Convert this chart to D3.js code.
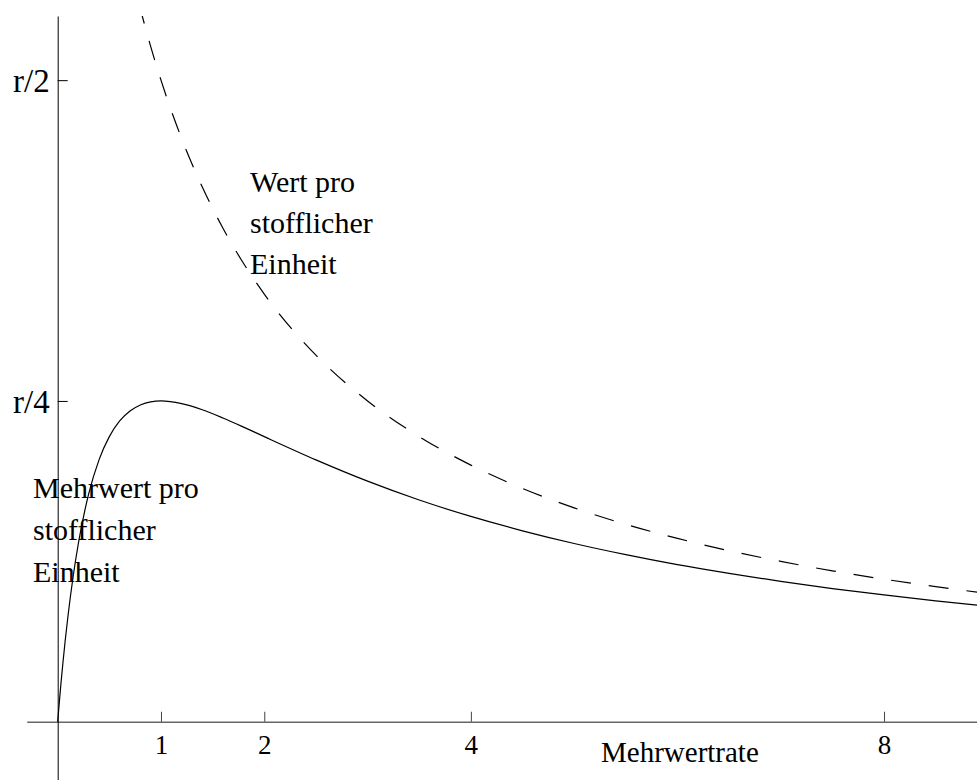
<!DOCTYPE html>
<meta charset="utf-8">
<style>
body { margin: 0; background: #fff; }
svg { display: block; }
text { font-family: "Liberation Serif", "Times New Roman", serif; font-size: 30px; fill: #000; }
.axis--x text { font-size: 27px; }
.axis--y text { font-size: 33px; }
.title { font-size: 29px; }
.curve { fill: none; stroke: #000; stroke-width: 1.2px; }
.curve--dashed { stroke-dasharray: 20, 18; }
</style>
<body>
<script src="https://cdn.jsdelivr.net/npm/d3@7"></script>
<script>

// Mehrwertrate (s) and values, in units of r
var rateSolid = [0, 0.01, 0.02, 0.03, 0.05, 0.1, 0.15, 0.2, 0.3, 0.4, 0.5, 0.6, 0.7, 0.8, 0.9, 1,
                 1.2, 1.4, 1.6, 1.8, 2, 2.5, 3, 3.5, 4, 4.5, 5, 5.5, 6, 6.5, 7, 7.5, 8, 8.5, 9]
var mehrwert  = [0, 0.0098, 0.0192, 0.0283, 0.0454, 0.0826, 0.1134, 0.1389, 0.1775, 0.2041, 0.2222,
                 0.2344, 0.2422, 0.2469, 0.2493, 0.25, 0.2479, 0.2431, 0.2367, 0.2296, 0.2222, 0.2041,
                 0.1875, 0.1728, 0.16, 0.1488, 0.1389, 0.1302, 0.1224, 0.1156, 0.1094, 0.1038,
                 0.0988, 0.0942, 0.09]

var rateDashed = [0.7, 0.75, 0.8, 0.9, 1, 1.2, 1.4, 1.6, 1.8, 2, 2.5, 3, 3.5, 4, 4.5, 5, 5.5, 6,
                  6.5, 7, 7.5, 8, 8.5, 9]
var wert       = [0.588, 0.571, 0.5556, 0.5263, 0.5, 0.4545, 0.4167, 0.3846, 0.3571, 0.3333, 0.2857,
                  0.25, 0.2222, 0.2, 0.1818, 0.1667, 0.1538, 0.1429, 0.1333, 0.125, 0.1176, 0.1111,
                  0.1053, 0.1]

var xTicks = [1, 2, 4, 8]
var yTicks = [0.25, 0.5]
var yTickLabels = ["r/4", "r/2"]

var labelMehrwert = ["Mehrwert pro", "stofflicher", "Einheit"]
var labelWert = ["Wert pro", "stofflicher", "Einheit"]
var xTitle = "Mehrwertrate"

var width = 977,
    height = 780;

var svg = d3.select("body").append("svg")
    .attr("width", width)
    .attr("height", height);

var x = d3.scaleLinear().domain([-0.3, 8.9]).range([26.7, 977])
var y = d3.scaleLinear().domain([-0.0454, 0.55]).range([780, 16])

svg.append("clipPath").attr("id", "clip")
  .append("rect")
    .attr("x", 0).attr("y", y(0.55))
    .attr("width", width).attr("height", height - y(0.55))

// x axis, ticks pointing up
var gx = svg.append("g")
    .attr("class", "axis axis--x")
    .attr("transform", "translate(0," + y(0) + ")")
    .call(d3.axisBottom(x).tickValues(xTicks).tickFormat(d3.format("d"))
      .tickSizeInner(-10).tickSizeOuter(0).tickPadding(13))
gx.select(".domain").attr("stroke", "#666").attr("stroke-width", 1.6)
gx.selectAll(".tick line").attr("stroke", "#444")
gx.attr("font-size", null).attr("font-family", null)

// y axis, ticks pointing right, labels on the left
var gy = svg.append("g")
    .attr("class", "axis axis--y")
    .attr("transform", "translate(" + x(0) + ",0)")
    .call(d3.axisLeft(y).tickValues(yTicks).tickFormat(function(d, i) { return yTickLabels[i]; })
      .tickSizeInner(-10).tickSizeOuter(0).tickPadding(8))
gy.select(".domain").attr("stroke", "#000").attr("stroke-width", 1)
gy.selectAll("text").attr("dy", "0.34em")
gy.attr("font-size", null).attr("font-family", null)

var line = d3.line()
    .x(function(d) { return x(d[0]); })
    .y(function(d) { return y(d[1]); })
    .curve(d3.curveMonotoneX)

var g = svg.append("g").attr("clip-path", "url(#clip)")

g.append("path")
    .datum(d3.zip(rateDashed, wert))
    .attr("class", "curve curve--dashed")
    .attr("d", line)

// labels
svg.append("text")
    .attr("x", 250).attr("y", 192)
  .selectAll("tspan").data(labelWert).enter().append("tspan")
    .attr("x", 250).attr("dy", function(d, i) { return i ? 41 : 0; })
    .text(function(d) { return d; })

svg.append("text")
    .attr("x", 33).attr("y", 498)
  .selectAll("tspan").data(labelMehrwert).enter().append("tspan")
    .attr("x", 33).attr("dy", function(d, i) { return i ? 42 : 0; })
    .text(function(d) { return d; })

svg.append("text")
    .attr("class", "title")
    .attr("x", 601).attr("y", 762)
    .text(xTitle)

g.append("path")
    .datum(d3.zip(rateSolid, mehrwert))
    .attr("class", "curve")
    .attr("d", line)

</script>
</body>
</html>
